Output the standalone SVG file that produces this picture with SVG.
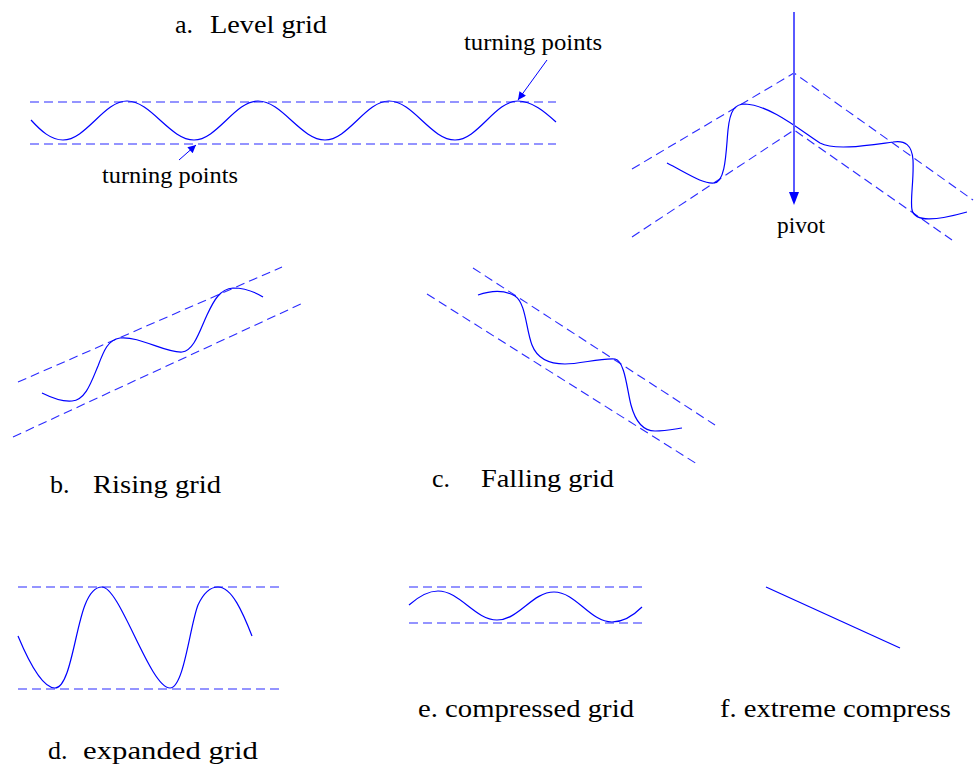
<svg xmlns="http://www.w3.org/2000/svg" width="974" height="767" viewBox="0 0 974 767">
<style>
.wave{fill:none;stroke:#0000ff;stroke-width:1.2}
.grid{fill:none;stroke:#2a2aff;stroke-width:1.1;stroke-dasharray:9 5}
.lbl{font-family:"Liberation Serif","Times New Roman",serif;font-size:26px;fill:#000}
.sm{font-family:"Liberation Serif","Times New Roman",serif;font-size:23px;fill:#000}
.arr{fill:none;stroke:#0000ff;stroke-width:1}
</style>
<defs>
<marker id="ah" viewBox="0 0 10 10" refX="10" refY="5" markerWidth="10" markerHeight="8" markerUnits="userSpaceOnUse" orient="auto">
<path d="M0,0 L10,5 L0,10 z" fill="#0000ff"/>
</marker>
</defs>
<rect width="974" height="767" fill="#fff"/>

<g id="level">
<line class="grid" x1="30" y1="102" x2="556" y2="102"/>
<line class="grid" x1="30" y1="144" x2="556" y2="144"/>
<path class="wave" d="M31,120 C41,131 51,140 63,140 C86,140 104,101 127,101 C151,101 170,140 194,140 C217,140 235,101 258,101 C282,101 301,140 325,140 C348,140 366,101 389,101 C413,101 431,140 455,140 C478,140 495,101 518,101 C532,101 545,112 556,122"/>
<text class="lbl" x="175" y="33">a.</text>
<text class="lbl" x="210" y="33" textLength="117" lengthAdjust="spacingAndGlyphs">Level grid</text>
<text class="sm" x="464" y="50" textLength="138" lengthAdjust="spacingAndGlyphs">turning points</text>
<text class="sm" x="102" y="183" textLength="136" lengthAdjust="spacingAndGlyphs">turning points</text>
</g>

<g id="pivot">
<path class="grid" d="M632,169 L794,73 L973,200"/>
<path class="grid" d="M632,237 L794,130 L952,240"/>
<path class="wave" d="M667,163 C690,175 703,184 714,183 C726,182 726,150 728,130 C730,110 735,104 745,104 C770,105 800,130 820,143 C835,151 870,145 893,142 C905,140 912,145 913,160 C914,180 910,200 912,210 C915,222 935,221 967,212"/>
<text class="sm" x="777" y="233" textLength="48" lengthAdjust="spacingAndGlyphs">pivot</text>
</g>

<g id="rising">
<line class="grid" x1="18" y1="382" x2="282" y2="267"/>
<line class="grid" x1="13" y1="437" x2="303" y2="303"/>
<path class="wave" d="M42,393 C52,398 62,402 72,401 C86,400 92,380 98,366 C104,350 108,340 120,338 C140,336 165,353 182,352 C194,351 200,330 207,315 C214,300 220,289 233,288 C245,288 255,292 263,297"/>
<text class="lbl" x="50" y="493">b.</text>
<text class="lbl" x="93" y="493" textLength="128" lengthAdjust="spacingAndGlyphs">Rising grid</text>
</g>

<g id="falling">
<line class="grid" x1="473" y1="268" x2="715" y2="425"/>
<line class="grid" x1="427" y1="294" x2="697" y2="464"/>
<path class="wave" d="M478,295 C492,290 505,290 515,296 C526,303 526,330 532,345 C537,358 548,364 565,364 C580,364 600,358 615,359 C625,361 627,390 631,405 C635,420 642,431 655,431 C665,431 675,429 682,428"/>
<text class="lbl" x="432" y="487">c.</text>
<text class="lbl" x="481" y="487" textLength="133" lengthAdjust="spacingAndGlyphs">Falling grid</text>
</g>

<g id="expanded">
<line class="grid" x1="18" y1="587" x2="282" y2="587"/>
<line class="grid" x1="18" y1="689" x2="282" y2="689"/>
<path class="wave" d="M18,636 C28,660 42,688 55,688 C70,688 75,630 85,605 C90,592 95,587 102,587 C120,587 150,688 170,688 C184,688 190,625 198,605 C204,592 210,587 218,587 C232,587 243,613 252,636"/>
<text class="lbl" x="48" y="759">d.</text>
<text class="lbl" x="83" y="759" textLength="175" lengthAdjust="spacingAndGlyphs">expanded grid</text>
</g>

<g id="compressed">
<line class="grid" x1="409" y1="587" x2="643" y2="587"/>
<line class="grid" x1="409" y1="623" x2="643" y2="623"/>
<path class="wave" d="M409,605 C418,597 427,591 438,591 C460,591 475,620 497,620 C519,620 532,592 554,592 C576,592 590,622 612,622 C625,622 634,615 642,607"/>
<text class="lbl" x="418" y="717" textLength="216" lengthAdjust="spacingAndGlyphs">e. compressed grid</text>
</g>

<g id="extreme">
<line class="wave" x1="766" y1="587" x2="900" y2="648"/>
<text class="lbl" x="720" y="717" textLength="231" lengthAdjust="spacingAndGlyphs">f. extreme compress</text>
</g>

<g id="connectors">
<line class="arr" x1="547" y1="60" x2="518" y2="100" marker-end="url(#ah)"/>
<line class="arr" x1="179" y1="160" x2="196" y2="145" marker-end="url(#ah)"/>
<line x1="794" y1="12" x2="794" y2="194" stroke="#5a5aff" stroke-width="2"/>
<path d="M789,192 L799,192 L794,205 z" fill="#0000ff"/>
</g>
</svg>
